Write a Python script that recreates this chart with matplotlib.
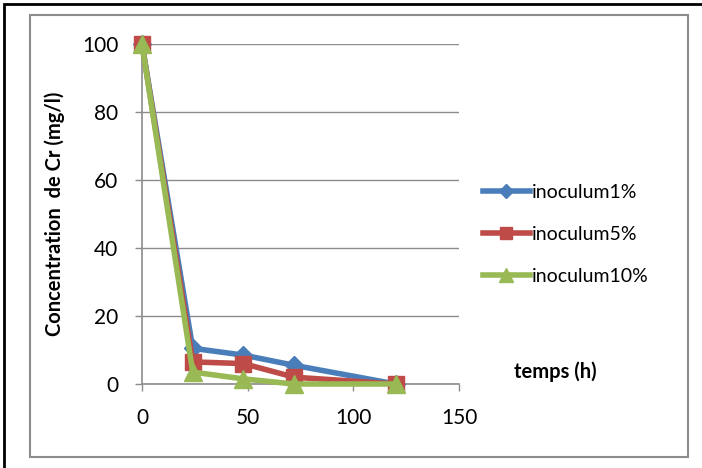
import matplotlib.pyplot as plt
from matplotlib.patches import Rectangle

# ── Data ─────────────────────────────────────────────
temps = [0, 24, 48, 72, 120]
inoculum1 = [100, 10.5, 8.5, 5.5, 0]
inoculum5 = [100, 6.5, 6, 2, 0]
inoculum10 = [100, 3.5, 1.5, 0, 0]

series = [
    ('inoculum1%', inoculum1, '#4a7ebb', 'D', 9),
    ('inoculum5%', inoculum5, '#be4b48', 's', 12),
    ('inoculum10%', inoculum10, '#98b954', '^', 13),
]

plt.rcParams['font.family'] = ['Lato', 'DejaVu Sans']

fig = plt.figure(figsize=(7.02, 4.68), dpi=100)

# outer frames (black document border + gray chart border)
fig.patches.append(Rectangle((4 / 702, -0.1), 1.2, 1 - 4 / 468 + 0.1,
                             transform=fig.transFigure, fill=False,
                             edgecolor='black', linewidth=2))
fig.patches.append(Rectangle((30 / 702, 1 - 457 / 468), (688 - 30) / 702,
                             (457 - 15) / 468, transform=fig.transFigure,
                             fill=False, edgecolor='#8c8c8c', linewidth=1.5))

ax = fig.add_axes([142 / 702, 1 - 384 / 468, 317 / 702, 340 / 468])

for label, vals, color, marker, ms in series:
    ax.plot(temps, vals, color=color, linewidth=4, marker=marker,
            markersize=ms, label=label, clip_on=False, zorder=3)

ax.set_xlim(0, 150)
ax.set_ylim(0, 100)
ax.set_xticks([0, 50, 100, 150])
ax.set_yticks([0, 20, 40, 60, 80, 100])
ax.yaxis.grid(True, color='#8c8c8c', linewidth=1)
ax.set_axisbelow(True)
for side in ['top', 'right']:
    ax.spines[side].set_visible(False)
for side in ['left', 'bottom']:
    ax.spines[side].set_color('#8c8c8c')
    ax.spines[side].set_linewidth(1.2)
ax.tick_params(colors='#8c8c8c', labelcolor='black', labelsize=15,
               length=5, width=1)
ax.tick_params(axis='x', pad=12)
ax.tick_params(axis='y', pad=12)

ax.set_ylabel('Concentration  de Cr (mg/l)', fontsize=14.5, fontweight='bold',
              labelpad=12)
fig.text(555 / 702, 1 - 372 / 468, 'temps (h)', fontsize=14.5,
         fontweight='bold', ha='center', va='center')

ax.legend(loc='center left', bbox_to_anchor=(1.02, 0.44), frameon=False,
          fontsize=14, handlelength=2.4, handletextpad=0.1,
          labelspacing=1.3, markerscale=0.75)

plt.savefig('out.png', dpi=100)
